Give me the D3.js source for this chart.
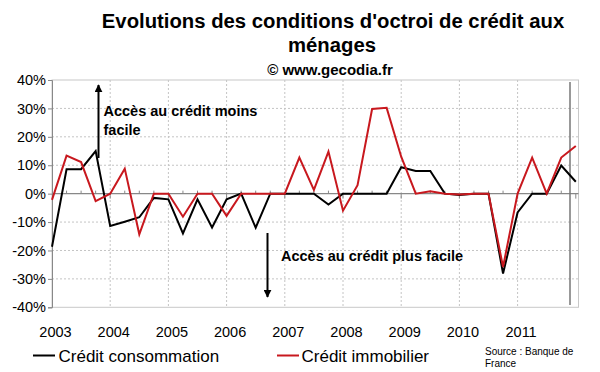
<!DOCTYPE html>
<html><head><meta charset="utf-8">
<script src="https://cdn.jsdelivr.net/npm/d3@7"></script>
<style>body{margin:0;background:#fff}svg{display:block;font-family:"Liberation Sans",Arial,sans-serif}</style>
</head><body><svg id="c" width="600" height="372"></svg>
<script>
const years = ["2003","2004","2005","2006","2007","2008","2009","2010","2011"];
const quarters = d3.range(37).map(i => (2003 + Math.floor(i/4)) + "T" + (i%4+1));
const consommation = [-18.7, 8.6, 8.6, 15, -11.4, -9.9, -8.3, -1.5, -2, -14, -2, -11.9, -2, 0, -12, 0, 0, 0, 0, -3.8, 0, 0, 0, 0, 9.3, 8, 8, 0, -0.5, 0, 0, -28.1, -6.6, 0, 0, 9.9, 4.2];
const immobilier = [-2.2, 13.4, 11.1, -2.6, 0, 8.8, -14.3, 0, 0, -8.1, 0, 0, -7.8, 0, 0, 0, 0, 12.7, 1.3, 14.8, -6, 3, 29.8, 30.2, 13, 0, 0.8, 0, -0.3, 0, 0, -25.8, 0, 12.7, 0, 12.7, 16.8];
const yTicks = [-40,-30,-20,-10,0,10,20,30,40];
const seriesNames = ["Crédit consommation","Crédit immobilier"];
const colors = ["#000000","#c8181e"];

const svg = d3.select("#c");
const x = d3.scaleLinear().domain([0, 36]).range([52, 575.8]);
const y = d3.scaleLinear().domain([-40, 40]).range([307.3, 80]);
const xL = 52, xR = 578.5;

// horizontal gridlines
svg.append("g").selectAll("line").data(yTicks.filter(d => d !== 0 && d !== -40 && d!==40)).join("line")
  .attr("x1", xL).attr("x2", xR).attr("y1", d => y(d)).attr("y2", d => y(d))
  .attr("stroke", "#c4c4c4").attr("stroke-dasharray", "2,2");
// vertical gridlines at year starts
svg.append("g").selectAll("line").data(d3.range(4, 36, 4)).join("line")
  .attr("x1", d => x(d)).attr("x2", d => x(d)).attr("y1", y(40)).attr("y2", y(-40))
  .attr("stroke", "#c4c4c4").attr("stroke-dasharray", "2,2");
// frame
svg.append("rect").attr("x", xL).attr("y", y(40)).attr("width", xR - xL).attr("height", y(-40) - y(40))
  .attr("fill", "none").attr("stroke", "#c8c8c8");

// y axis
const ya = svg.append("g").attr("transform", `translate(${xL},0)`)
  .call(d3.axisLeft(y).tickValues(yTicks).tickFormat(d => d + "%").tickSize(4).tickPadding(2));
ya.select(".domain").attr("stroke", "#888");
ya.selectAll(".tick line").attr("stroke", "#888");
ya.selectAll("text").attr("font-size", 14.5).attr("fill", "#000").attr("font-family", '"Liberation Sans",Arial,sans-serif');

// zero line with quarter ticks
svg.append("line").attr("x1", xL).attr("x2", xR).attr("y1", y(0)).attr("y2", y(0)).attr("stroke", "#888").attr("stroke-width", 1.2);
svg.append("g").selectAll("line").data(d3.range(1, 37)).join("line")
  .attr("x1", d => x(d)).attr("x2", d => x(d))
  .attr("y1", y(0)).attr("y2", d => d % 4 === 0 ? y(0) + 5 : y(0) - 3)
  .attr("stroke", "#888");

// year labels
svg.append("g").selectAll("text").data(years).join("text")
  .attr("x", (d, i) => x(i * 4) + 3.5).attr("y", 336.5).attr("text-anchor", "middle")
  .attr("font-size", 14.5).text(d => d);

// marker vertical line
svg.append("line").attr("x1", 570).attr("x2", 570).attr("y1", 82).attr("y2", 305).attr("stroke", "#777").attr("stroke-width", 1.5);

// lines
const line = d3.line().x((d, i) => x(i)).y(d => y(d));
[consommation, immobilier].forEach((s, k) => {
  svg.append("path").datum(s).attr("d", line).attr("fill", "none")
    .attr("stroke", colors[k]).attr("stroke-width", 2).attr("stroke-linejoin", "miter");
});

// title
const t = svg.append("g").attr("font-weight", "bold").attr("text-anchor", "middle");
t.append("text").attr("x", 333).attr("y", 28).attr("font-size", 20.3).text("Evolutions des conditions d'octroi de crédit aux");
t.append("text").attr("x", 332).attr("y", 52).attr("font-size", 20.3).text("ménages");
t.append("text").attr("x", 330).attr("y", 75).attr("font-size", 15).text("© www.gecodia.fr");

// arrows & annotations
const defs = svg.append("defs");
defs.append("marker").attr("id", "ah").attr("viewBox", "0 0 10 10").attr("refX", 9).attr("refY", 5)
  .attr("markerWidth", 4).attr("markerHeight", 4).attr("orient", "auto")
  .append("path").attr("d", "M0,0L10,5L0,10z").attr("fill", "#000");
svg.append("line").attr("x1", 98.5).attr("x2", 98.5).attr("y1", 158).attr("y2", 85)
  .attr("stroke", "#000").attr("stroke-width", 2).attr("marker-end", "url(#ah)");
svg.append("line").attr("x1", 267.5).attr("x2", 267.5).attr("y1", 233).attr("y2", 297)
  .attr("stroke", "#000").attr("stroke-width", 2).attr("marker-end", "url(#ah)");
const a = svg.append("g").attr("font-weight", "bold").attr("font-size", 14.5);
a.append("text").attr("x", 103.5).attr("y", 116).text("Accès au crédit moins");
a.append("text").attr("x", 103.5).attr("y", 135).text("facile");
a.append("text").attr("x", 281).attr("y", 261).text("Accès au crédit plus facile");

// legend
const lg = svg.append("g");
[[33, 58.5], [277, 301.5]].forEach((p, k) => {
  lg.append("line").attr("x1", p[0]).attr("x2", p[0] + 22).attr("y1", 355.5).attr("y2", 355.5)
    .attr("stroke", colors[k]).attr("stroke-width", 2);
  lg.append("text").attr("x", p[1]).attr("y", 361.5).attr("font-size", 17).text(seriesNames[k]);
});
svg.append("text").attr("x", 485).attr("y", 355).attr("font-size", 10).text("Source : Banque de");
svg.append("text").attr("x", 485).attr("y", 366.5).attr("font-size", 10).text("France");
</script></body></html>
